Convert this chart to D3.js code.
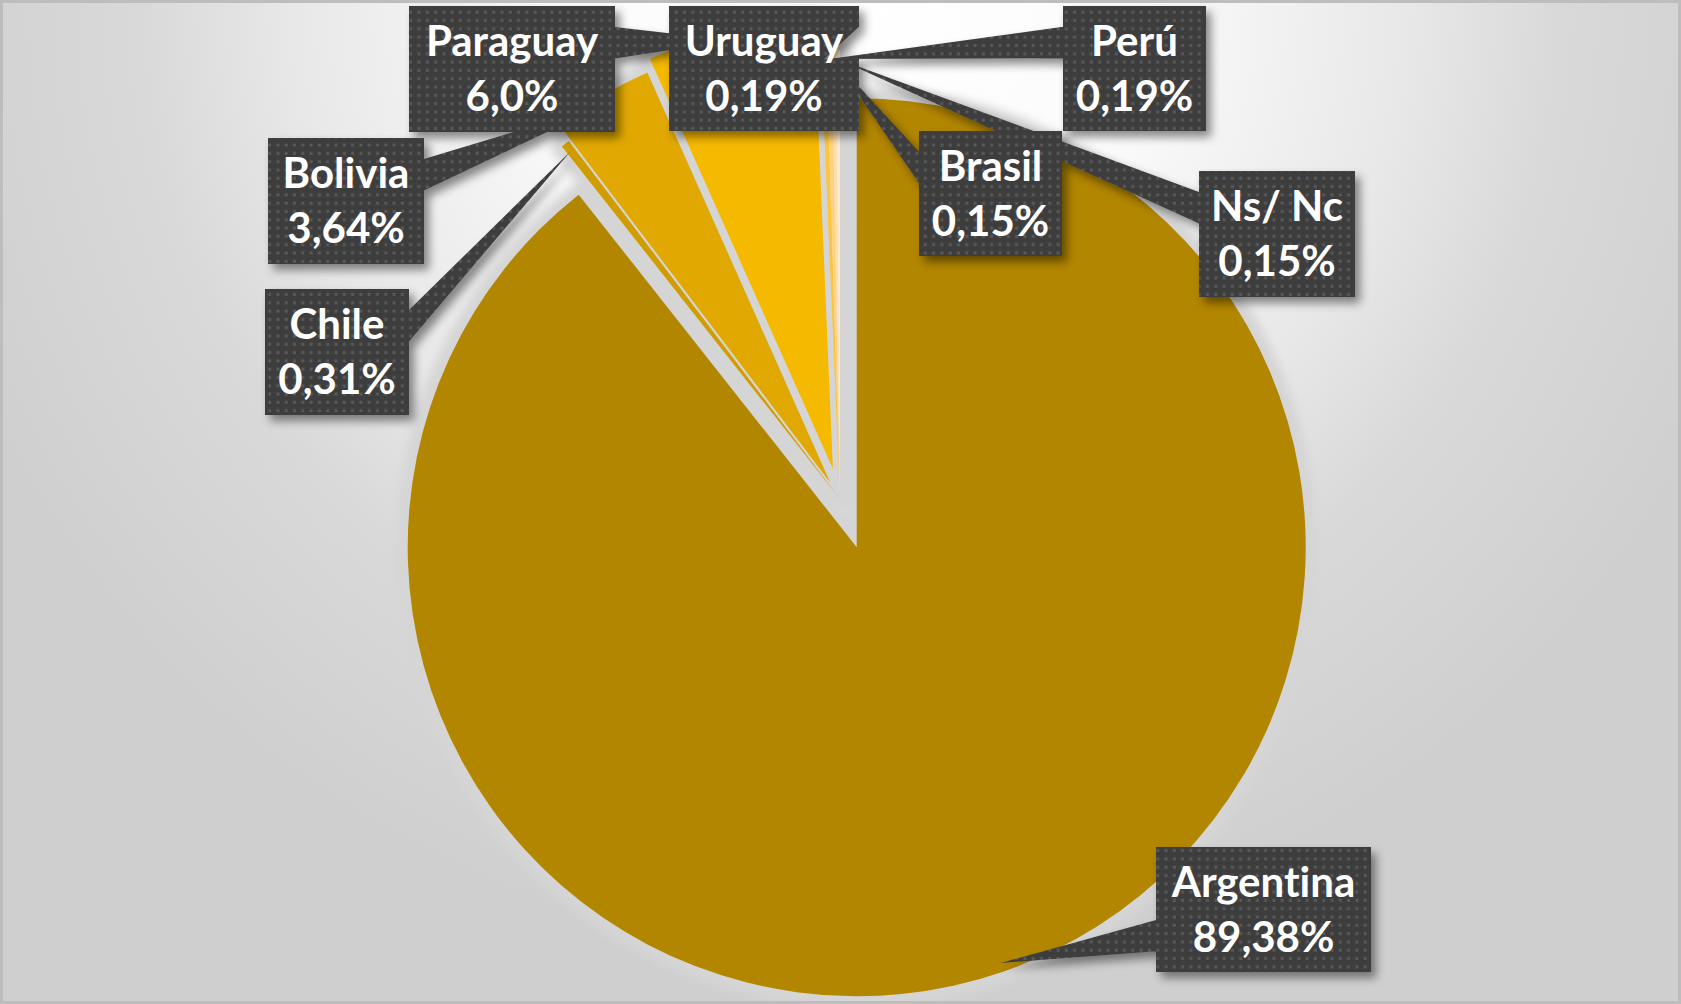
<!DOCTYPE html>
<html><head><meta charset="utf-8">
<script src="https://cdn.jsdelivr.net/npm/d3@7"></script>
<style>html,body{margin:0;padding:0;background:#fff;} svg{display:block} text{font-variant-ligatures:none;font-feature-settings:"liga" 0;}</style>
</head><body><svg id="chart" width="1681" height="1004"></svg>
<script>
// ---- data ----
const countries = ["Argentina", "Chile", "Bolivia", "Paraguay", "Uruguay", "Perú", "Brasil", "Ns/ Nc"];
const shares = [89.38, 0.31, 3.64, 6.0, 0.19, 0.19, 0.15, 0.15];
const shareLabels = ["89,38%", "0,31%", "3,64%", "6,0%", "0,19%", "0,19%", "0,15%", "0,15%"];

// ---- styles / layout ----
const sliceColors = ["#b38600", "#d19c00", "#e0a800", "#f5b900", "#ffc43d", "#ffd27f", "#ffdfab", "#ffe9c9"];
const explodePx = [51, 0, 19, 31, 0, 0, 0, 0];
const labelBoxes = [
  [1156, 847, 1371, 972], [265, 289, 409, 415], [268, 138, 424, 264], [409, 6, 615, 132],
  [669, 6, 859, 131], [1063, 6, 1206, 131], [919, 131, 1062, 256], [1199, 171, 1355, 297]
];
const W = 1681, H = 1004, CX = 840, CY = 499, R = 449;

const svg = d3.select("#chart");
const defs = svg.append("defs");

const bg = defs.append("radialGradient").attr("id", "bg").attr("gradientUnits", "userSpaceOnUse")
  .attr("cx", 850).attr("cy", 0).attr("r", 960);
[[0, "#ffffff"], [0.3, "#fbfbfb"], [0.58, "#e8e8e8"], [0.74, "#d9d9d9"], [1, "#cfcfcf"]]
  .forEach(([o, c]) => bg.append("stop").attr("offset", o).attr("stop-color", c));

const blur = defs.append("filter").attr("id", "soft").attr("x", "-10%").attr("y", "-10%").attr("width", "120%").attr("height", "120%");
blur.append("feGaussianBlur").attr("stdDeviation", 5);

const sh = defs.append("filter").attr("id", "shadow").attr("x", "-20%").attr("y", "-20%").attr("width", "140%").attr("height", "140%");
sh.append("feDropShadow").attr("dx", 5).attr("dy", 6).attr("stdDeviation", 5)
  .attr("flood-color", "#000").attr("flood-opacity", 0.45);

const pat = defs.append("pattern").attr("id", "dots").attr("patternUnits", "userSpaceOnUse")
  .attr("width", 8.3).attr("height", 8.3);
pat.append("rect").attr("width", 8.3).attr("height", 8.3).attr("fill", "#3e3e3e");
pat.append("rect").attr("x", 2.5).attr("y", 2.5).attr("width", 3).attr("height", 3).attr("fill", "#585858");

svg.append("rect").attr("width", W).attr("height", H).attr("fill", "url(#bg)");

// ---- pie ----
const pie = d3.pie().sort(null).value(d => d);
const arcs = pie(shares);
const arc = d3.arc().innerRadius(0).outerRadius(R);
const mid = a => (a.startAngle + a.endAngle) / 2;
const off = (a, i) => [explodePx[i] * Math.sin(mid(a)), -explodePx[i] * Math.cos(mid(a))];

const pieG = svg.append("g").attr("transform", `translate(${CX},${CY})`);
pieG.append("g").attr("filter", "url(#soft)")
  .selectAll("path").data(arcs).join("path")
  .attr("transform", (a, i) => `translate(${off(a, i)})`)
  .attr("d", arc).attr("fill", "#d5d5d5").attr("stroke", "#d5d5d5")
  .attr("stroke-width", 22).attr("stroke-linejoin", "round");
pieG.append("g").selectAll("path").data(arcs).join("path")
  .attr("transform", (a, i) => `translate(${off(a, i)})`)
  .attr("d", arc).attr("fill", (a, i) => sliceColors[i]);

// ---- callout labels (wedge rect callouts) ----
function callout(box, tx, ty) {
  const [x0, y0, x1, y1] = box, w = x1 - x0, h = y1 - y0;
  const hc = x0 + w / 2, vc = y0 + h / 2;
  const dx = tx - hc, dy = ty - vc, dq = dx * h / w;
  let b1, b2;
  if (Math.abs(dy) - Math.abs(dq) > 0) {
    const yy = dy < 0 ? y0 : y1;
    b1 = [x0 + w * (dx < 0 ? 2 : 7) / 12, yy]; b2 = [x0 + w * (dx < 0 ? 5 : 10) / 12, yy];
  } else {
    const xx = dx < 0 ? x0 : x1;
    b1 = [xx, y0 + h * (dy < 0 ? 2 : 7) / 12]; b2 = [xx, y0 + h * (dy < 0 ? 5 : 10) / 12];
  }
  const p = d3.path();
  p.rect(x0, y0, w, h);
  p.moveTo(b1[0], b1[1]); p.lineTo(tx, ty); p.lineTo(b2[0], b2[1]); p.closePath();
  return p.toString();
}

const labels = arcs.map((a, i) => {
  const [ox, oy] = off(a, i);
  const m = mid(a);
  return {
    i, box: labelBoxes[i],
    tx: CX + ox + 0.98 * R * Math.sin(m),
    ty: CY + oy - 0.98 * R * Math.cos(m)
  };
});

svg.append("g").attr("filter", "url(#shadow)")
  .selectAll("path").data(labels).join("path")
  .attr("d", d => callout(d.box, d.tx, d.ty))
  .attr("fill", "url(#dots)");

const txt = svg.append("g").attr("font-family", "Lato, 'Open Sans', sans-serif")
  .attr("font-weight", 700).attr("font-size", 42).attr("fill", "#ffffff").attr("text-anchor", "middle");
labels.forEach(d => {
  const [x0, y0, x1] = d.box, cx = (x0 + x1) / 2;
  txt.append("text").attr("x", cx).attr("y", y0 + 50).text(countries[d.i]);
  txt.append("text").attr("x", cx).attr("y", y0 + 105).text(shareLabels[d.i]);
});

svg.append("rect").attr("x", 1.5).attr("y", 1.5).attr("width", W - 3).attr("height", H - 3)
  .attr("fill", "none").attr("stroke", "#bdbdbd").attr("stroke-width", 3);
</script></body></html>
